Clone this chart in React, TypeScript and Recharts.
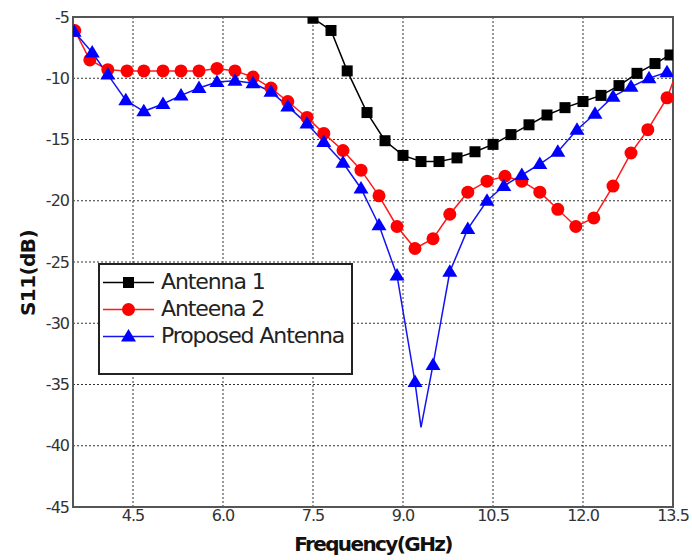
import React from 'react';
import { LineChart, Line, XAxis, YAxis, CartesianGrid, ReferenceArea } from 'recharts';

const xTicks = [4.5, 6.0, 7.5, 9.0, 10.5, 12.0, 13.5];
const yTicks = [-45, -40, -35, -30, -25, -20, -15, -10, -5];

const antenna1Freq = [7.5, 7.8, 8.07, 8.4, 8.7, 9.0, 9.3, 9.6, 9.9, 10.2, 10.5, 10.8, 11.1, 11.4, 11.7, 12.0, 12.3, 12.6, 12.9, 13.2, 13.45];
const antenna1S11 = [-5.1, -6.1, -9.4, -12.8, -15.1, -16.3, -16.8, -16.8, -16.5, -16.0, -15.4, -14.6, -13.8, -13.0, -12.4, -11.9, -11.4, -10.6, -9.6, -8.8, -8.1];

const antenna2Freq = [3.53, 3.78, 4.08, 4.4, 4.68, 5.0, 5.3, 5.6, 5.9, 6.2, 6.5, 6.8, 7.08, 7.4, 7.68, 8.0, 8.3, 8.6, 8.9, 9.2, 9.5, 9.78, 10.08, 10.4, 10.7, 10.98, 11.28, 11.58, 11.88, 12.18, 12.5, 12.8, 13.08, 13.4, 13.5];
const antenna2S11 = [-6.1, -8.5, -9.3, -9.4, -9.4, -9.4, -9.4, -9.4, -9.2, -9.4, -9.9, -10.8, -11.9, -13.2, -14.5, -15.9, -17.5, -19.6, -22.1, -23.9, -23.1, -21.1, -19.3, -18.4, -18.0, -18.4, -19.3, -20.7, -22.1, -21.4, -18.8, -16.1, -14.2, -11.6, -10.3];
const antenna2Unmarked = [13.5];

const proposedFreq = [3.52, 3.82, 4.08, 4.38, 4.68, 5.0, 5.3, 5.6, 5.9, 6.2, 6.5, 6.8, 7.08, 7.4, 7.68, 8.0, 8.3, 8.6, 8.9, 9.2, 9.3, 9.5, 9.78, 10.08, 10.4, 10.68, 10.98, 11.28, 11.58, 11.9, 12.2, 12.5, 12.8, 13.1, 13.4];
const proposedS11 = [-6.2, -7.9, -9.7, -11.8, -12.7, -12.1, -11.4, -10.8, -10.3, -10.2, -10.4, -11.1, -12.3, -13.7, -15.2, -16.9, -19.0, -22.0, -26.1, -34.8, -38.5, -33.4, -25.8, -22.3, -20.0, -18.8, -17.9, -17.0, -16.0, -14.2, -12.9, -11.5, -10.7, -10.0, -9.5];
const proposedUnmarked = [9.3];

const seriesNames = ['Antenna 1', 'Anteena 2', 'Proposed Antenna'];

const toRows = (fs: number[], vs: number[]) => fs.map((f, i) => ({ f, v: vs[i] }));
const data1 = toRows(antenna1Freq, antenna1S11);
const data2 = toRows(antenna2Freq, antenna2S11);
const data3 = toRows(proposedFreq, proposedS11);

const FONT = '"DejaVu Sans", sans-serif';
const BLACK = '#000000';
const RED = '#ff1a1a';
const BLUE = '#1414f0';

const Square = ({ cx, cy }: any) => <rect x={cx - 5.5} y={cy - 5.5} width={11} height={11} fill={BLACK} />;
const Circle = ({ cx, cy }: any) => <circle cx={cx} cy={cy} r={6.5} fill="#ff0000" />;
const Tri = ({ cx, cy }: any) => (
  <polygon points={`${cx},${cy - 7.5} ${cx - 7.5},${cy + 5} ${cx + 7.5},${cy + 5}`} fill="#0000ff" />
);

const makeDot = (Shape: any, skip: number[]) => (props: any) => {
  const { cx, cy, payload, index } = props;
  if (cx == null || cy == null || skip.includes(payload.f)) return <g key={`e${index}`} />;
  return <g key={`d${index}`}><Shape cx={cx} cy={cy} /></g>;
};

const LegendBox = () => {
  const icons = [
    { color: BLACK, shape: <rect x={20} y={6} width={11} height={11} fill={BLACK} /> },
    { color: RED, shape: <circle cx={25.5} cy={11.5} r={6.5} fill="#ff0000" /> },
    { color: BLUE, shape: <polygon points="25.5,4 18,16.5 33,16.5" fill="#0000ff" /> },
  ];
  return (
    <div
      style={{
        position: 'absolute',
        left: 98,
        top: 263,
        width: 251,
        height: 108,
        border: '2px solid #222',
        background: '#fff',
        boxSizing: 'content-box',
        fontFamily: FONT,
      }}
    >
      {seriesNames.map((name, i) => (
        <div
          key={name}
          style={{ position: 'absolute', left: 3, top: 5 + i * 27, height: 24, display: 'flex', alignItems: 'center' }}
        >
          <svg width={52} height={23} style={{ display: 'block' }}>
            <line x1={0} y1={11.5} x2={51} y2={11.5} stroke={icons[i].color} strokeWidth={1.5} />
            {icons[i].shape}
          </svg>
          <span
            style={{ marginLeft: 6, fontSize: 22, letterSpacing: -1.1, color: '#222', lineHeight: '24px', whiteSpace: 'nowrap' }}
          >
            {name}
          </span>
        </div>
      ))}
    </div>
  );
};

const XLabel = (props: any) => {
  const vb = props.viewBox || { x: 73, y: 507, width: 599 };
  return (
    <text
      x={vb.x + vb.width / 2}
      y={551}
      textAnchor="middle"
      fontFamily={FONT}
      fontWeight="bold"
      fontSize={20}
      letterSpacing={-1.6}
      fill="#111"
    >
      Frequency(GHz)
    </text>
  );
};

const YLabel = () => (
  <text
    x={35}
    y={273}
    transform="rotate(-90, 35, 273)"
    textAnchor="middle"
    fontFamily={FONT}
    fontWeight="bold"
    fontSize={20}
    letterSpacing={-0.6}
    fill="#111"
  >
    S11(dB)
  </text>
);

const tickStyle = { fill: '#333', fontSize: 16, fontFamily: FONT, letterSpacing: -1 };

export default function App() {
  return (
    <div style={{ position: 'absolute', left: 0, top: 0, width: 692, height: 560, background: '#fff' }}>
      <LineChart width={692} height={560} margin={{ top: 17, right: 19, bottom: 52, left: 72 }}>
        <CartesianGrid stroke="#333" strokeDasharray="2 2" strokeWidth={1} />
        <XAxis
          dataKey="f"
          type="number"
          domain={[3.5, 13.5]}
          ticks={xTicks}
          allowDataOverflow
          height={1}
          tickSize={0}
          tickMargin={3}
          tick={tickStyle}
          tickFormatter={(v: number) => v.toFixed(1)}
          stroke="#555"
          strokeWidth={2}
          label={<XLabel />}
        />
        <YAxis
          type="number"
          domain={[-45, -5]}
          ticks={yTicks}
          allowDataOverflow
          width={1}
          tickSize={0}
          tickMargin={4}
          tick={tickStyle}
          stroke="#555"
          strokeWidth={2}
          label={<YLabel />}
        />
        <ReferenceArea
          x1={3.5}
          x2={13.5}
          y1={-45}
          y2={-5}
          fill="none"
          fillOpacity={0}
          stroke="#555"
          strokeWidth={2}
          ifOverflow="visible"
        />
        <Line
          data={data1}
          dataKey="v"
          name={seriesNames[0]}
          stroke={BLACK}
          strokeWidth={1.5}
          dot={makeDot(Square, [])}
          isAnimationActive={false}
        />
        <Line
          data={data2}
          dataKey="v"
          name={seriesNames[1]}
          stroke={RED}
          strokeWidth={1.5}
          dot={makeDot(Circle, antenna2Unmarked)}
          isAnimationActive={false}
        />
        <Line
          data={data3}
          dataKey="v"
          name={seriesNames[2]}
          stroke={BLUE}
          strokeWidth={1.5}
          dot={makeDot(Tri, proposedUnmarked)}
          isAnimationActive={false}
        />
      </LineChart>
      <LegendBox />
    </div>
  );
}
